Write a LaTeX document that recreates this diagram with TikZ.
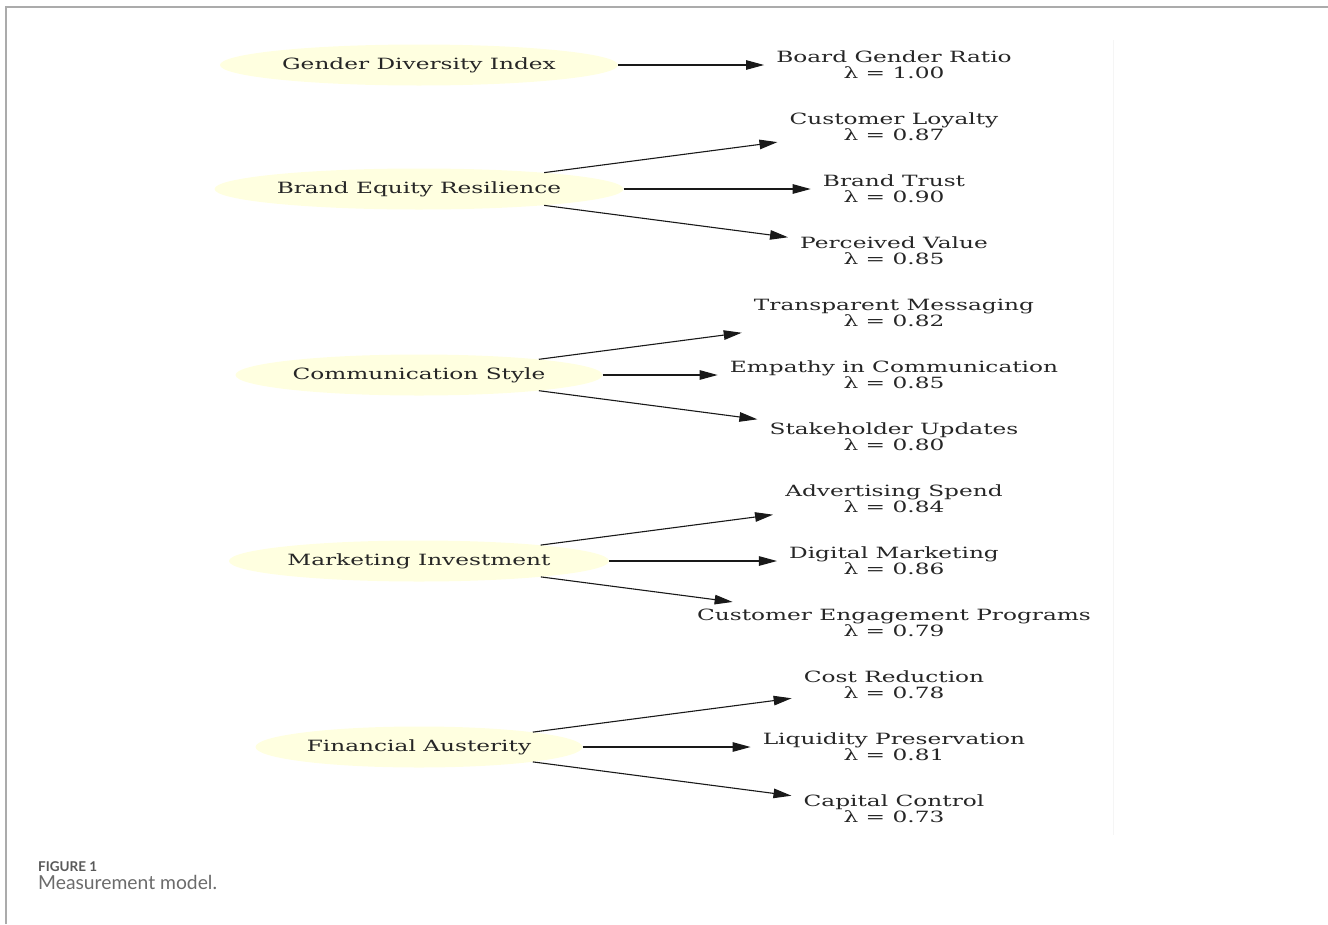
\documentclass[tikz,border=0pt]{standalone}
\usepackage{fontspec}
\usetikzlibrary{shapes.geometric,arrows.meta}
\newfontfamily\gv{DejaVu Serif}[FakeStretch=1.5]
\newfontfamily\capfont{Lato}
\definecolor{latfill}{RGB}{255,255,224}
\begin{document}
\begin{tikzpicture}[x=1pt,y=-1pt,
  lat/.style={ellipse, fill=latfill, inner sep=0pt, minimum height=41pt,
    font=\gv\fontsize{15.5}{16}\selectfont, text=black!85},
  ind/.style={rectangle, inner xsep=12pt, inner ysep=7pt, align=center,
    font=\gv\fontsize{15.5}{16}\selectfont, text=black!85},
  load/.style={-{Triangle[length=18pt,width=9.5pt]}, line width=1.1pt, black!90},
]
\useasboundingbox (0,0) rectangle (1328,924);
\draw[black!33, line width=2pt] (6,924) -- (6,7) -- (1328,7);
\draw[black!4, line width=1pt] (1113,40) -- (1113,835);

% latent variables
\node[lat, minimum width=398pt] (gdi) at (419,65) {Gender Diversity Index};
\node[lat, minimum width=409pt] (ber) at (419,189) {Brand Equity Resilience};
\node[lat, minimum width=367pt] (cs) at (419,375) {Communication Style};
\node[lat, minimum width=380pt] (mi) at (419,561) {Marketing Investment};
\node[lat, minimum width=327pt] (fa) at (419,747) {Financial Austerity};

% indicators
\node[ind] (bgr) at (894,65)  {Board Gender Ratio\\λ = 1.00};
\node[ind] (cl)  at (894,127) {Customer Loyalty\\λ = 0.87};
\node[ind] (bt)  at (894,189) {Brand Trust\\λ = 0.90};
\node[ind] (pv)  at (894,251) {Perceived Value\\λ = 0.85};
\node[ind] (tm)  at (894,313) {Transparent Messaging\\λ = 0.82};
\node[ind] (ec)  at (894,375) {Empathy in Communication\\λ = 0.85};
\node[ind] (su)  at (894,437) {Stakeholder Updates\\λ = 0.80};
\node[ind] (as)  at (894,499) {Advertising Spend\\λ = 0.84};
\node[ind] (dm)  at (894,561) {Digital Marketing\\λ = 0.86};
\node[ind] (cep) at (894,623) {Customer Engagement Programs\\λ = 0.79};
\node[ind] (cr)  at (894,685) {Cost Reduction\\λ = 0.78};
\node[ind] (lp)  at (894,747) {Liquidity Preservation\\λ = 0.81};
\node[ind] (cc)  at (894,809) {Capital Control\\λ = 0.73};

% loadings
\draw[load] (gdi) -- (bgr);
\draw[load] (ber) -- (cl);
\draw[load] (ber) -- (bt);
\draw[load] (ber) -- (pv);
\draw[load] (cs) -- (tm);
\draw[load] (cs) -- (ec);
\draw[load] (cs) -- (su);
\draw[load] (mi) -- (as);
\draw[load] (mi) -- (dm);
\draw[load] (mi) -- (cep);
\draw[load] (fa) -- (cr);
\draw[load] (fa) -- (lp);
\draw[load] (fa) -- (cc);

% caption
\node[anchor=base west, inner sep=0pt, text=black!65,
  font=\capfont\bfseries\fontsize{13.5}{15}\selectfont] (fig) at (38,871) {FIGURE 1};
\node[anchor=base west, inner sep=0pt, text=black!58,
  font=\capfont\fontsize{19.3}{22}\selectfont] (cap) at (38,889) {Measurement model.};
\end{tikzpicture}
\end{document}
